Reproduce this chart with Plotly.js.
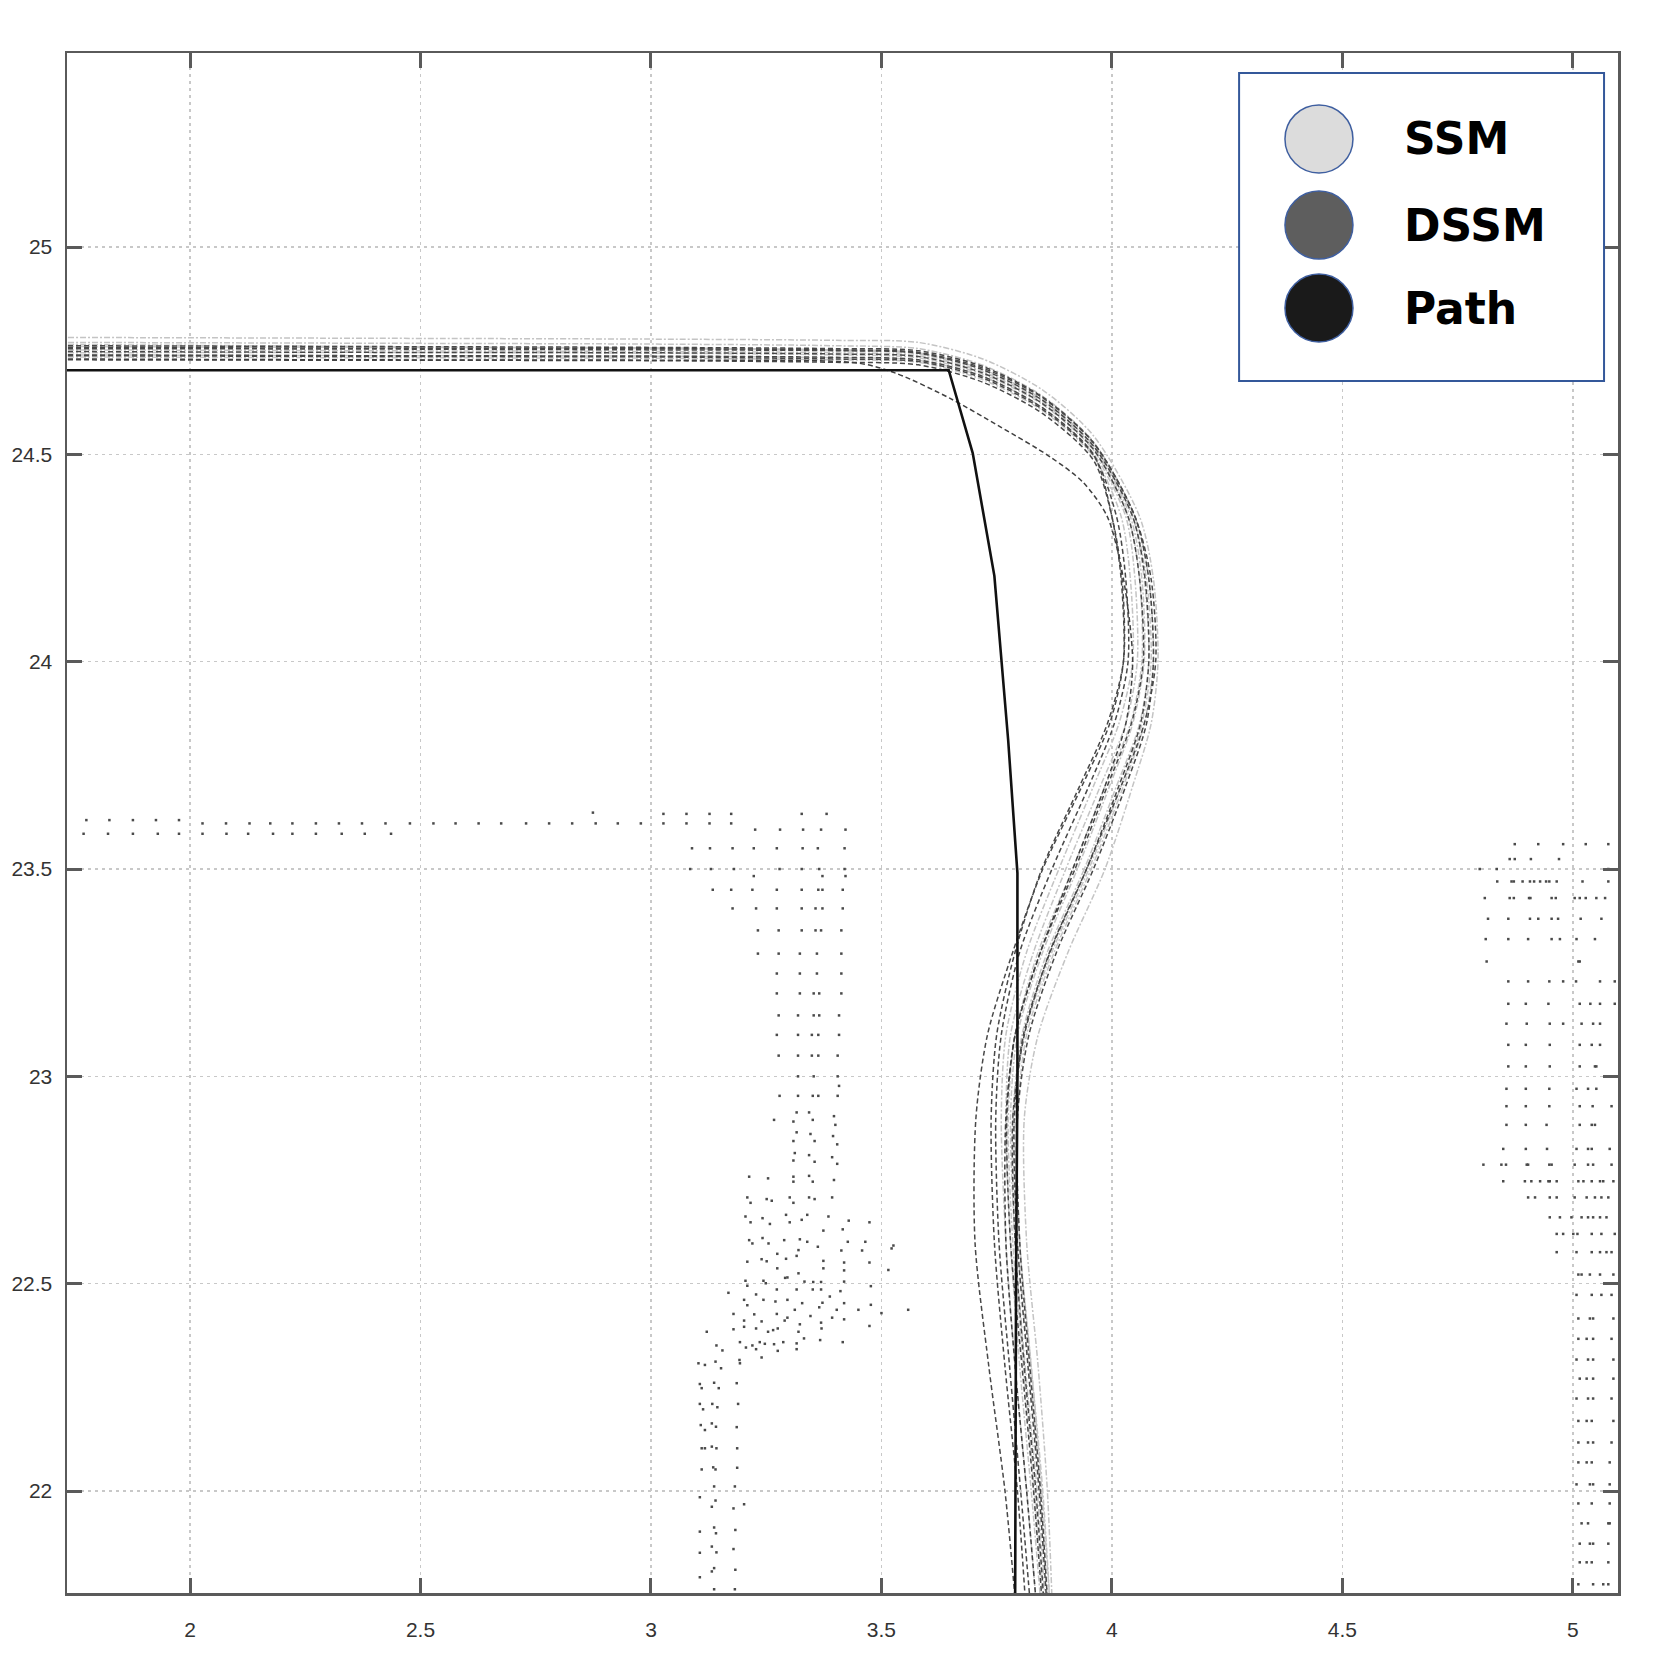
<!DOCTYPE html>
<html>
<head>
<meta charset="utf-8">
<script src="https://cdn.plot.ly/plotly-3.0.1.min.js"></script>
<style>
  html, body { margin: 0; padding: 0; background: #fff; }
  #plot { width: 1655px; height: 1672px; }
</style>
</head>
<body>
<div id="plot"></div>
<script>
// axis ranges
const X_RANGE = [1.733, 5.098];
const Y_RANGE = [21.754, 25.468];

// horizontal part of every run shares these x, vertical part shares these y
const headX = [1.735, 2.4, 3.0, 3.4, 3.58, 3.72, 3.85, 3.96];
const tailY = [24.35, 24.2, 24.0, 23.85, 23.7, 23.5, 23.3, 23.1, 22.9, 22.6, 22.3, 22.0, 21.74];

// SSM runs (light grey)
const ssmHeadY = [
  [24.782, 24.78, 24.778, 24.775, 24.77, 24.73, 24.655, 24.545],
  [24.77, 24.768, 24.766, 24.762, 24.755, 24.715, 24.64, 24.53],
  [24.76, 24.758, 24.757, 24.752, 24.745, 24.705, 24.632, 24.522],
  [24.752, 24.75, 24.748, 24.745, 24.738, 24.698, 24.625, 24.515],
  [24.745, 24.746, 24.744, 24.74, 24.733, 24.693, 24.62, 24.51],
  [24.74, 24.738, 24.737, 24.733, 24.727, 24.688, 24.612, 24.502],
  [24.735, 24.733, 24.732, 24.728, 24.722, 24.68, 24.605, 24.495],
  [24.765, 24.76, 24.755, 24.75, 24.742, 24.7, 24.628, 24.52]
];
const ssmTailX = [
  [4.06, 4.09, 4.1, 4.085, 4.045, 3.985, 3.905, 3.84, 3.81, 3.815, 3.84, 3.86, 3.87],
  [4.05, 4.08, 4.09, 4.07, 4.025, 3.955, 3.875, 3.815, 3.795, 3.8, 3.825, 3.85, 3.865],
  [4.045, 4.07, 4.08, 4.06, 4.01, 3.94, 3.86, 3.805, 3.785, 3.795, 3.82, 3.845, 3.86],
  [4.04, 4.065, 4.07, 4.045, 3.995, 3.925, 3.85, 3.795, 3.78, 3.79, 3.812, 3.838, 3.855],
  [4.035, 4.06, 4.065, 4.04, 3.985, 3.915, 3.84, 3.79, 3.775, 3.785, 3.808, 3.832, 3.85],
  [4.03, 4.05, 4.055, 4.03, 3.975, 3.9, 3.83, 3.78, 3.77, 3.78, 3.8, 3.825, 3.845],
  [4.02, 4.04, 4.045, 4.015, 3.96, 3.885, 3.815, 3.77, 3.76, 3.77, 3.79, 3.815, 3.835],
  [4.045, 4.075, 4.085, 4.065, 4.02, 3.95, 3.87, 3.81, 3.79, 3.8, 3.825, 3.848, 3.865]
];

// DSSM runs (dark grey)
const dssmHeadY = [
  [24.762, 24.76, 24.758, 24.755, 24.75, 24.712, 24.638, 24.528],
  [24.755, 24.754, 24.752, 24.75, 24.744, 24.704, 24.63, 24.52],
  [24.758, 24.756, 24.755, 24.752, 24.746, 24.708, 24.636, 24.528],
  [24.748, 24.746, 24.745, 24.742, 24.736, 24.696, 24.622, 24.512],
  [24.74, 24.738, 24.737, 24.734, 24.728, 24.688, 24.612, 24.5],
  [24.738, 24.736, 24.735, 24.73, 24.724, 24.684, 24.608, 24.498],
  [24.728, 24.727, 24.726, 24.722, 24.716, 24.674, 24.598, 24.486]
];
const dssmTailX = [
  [4.05, 4.08, 4.09, 4.075, 4.03, 3.96, 3.88, 3.82, 3.795, 3.8, 3.822, 3.845, 3.86],
  [4.045, 4.072, 4.08, 4.062, 4.015, 3.945, 3.866, 3.808, 3.788, 3.795, 3.818, 3.842, 3.858],
  [4.05, 4.085, 4.095, 4.07, 4.02, 3.945, 3.865, 3.81, 3.785, 3.79, 3.81, 3.835, 3.852],
  [4.035, 4.06, 4.068, 4.042, 3.99, 3.92, 3.845, 3.79, 3.772, 3.78, 3.805, 3.83, 3.848],
  [4.0, 4.02, 4.025, 3.995, 3.935, 3.85, 3.785, 3.73, 3.705, 3.703, 3.733, 3.768, 3.79],
  [4.01, 4.03, 4.035, 4.005, 3.95, 3.87, 3.8, 3.76, 3.748, 3.755, 3.778, 3.802, 3.822],
  [4.0, 4.022, 4.025, 3.99, 3.93, 3.848, 3.79, 3.75, 3.738, 3.745, 3.768, 3.795, 3.812]
];
// the DSSM run that cuts the corner early
const cutX = [1.735, 2.4, 3.0, 3.45, 3.533, 3.649, 3.757, 3.866, 3.938, 3.99, 4.025, 4.045, 4.03, 3.985, 3.915, 3.845, 3.79, 3.77, 3.77, 3.79, 3.815, 3.835];
const cutY = [24.73, 24.728, 24.727, 24.72, 24.695, 24.635, 24.567, 24.494, 24.432, 24.35, 24.2, 24.0, 23.85, 23.7, 23.5, 23.3, 23.1, 22.9, 22.6, 22.3, 22.0, 21.74];

// reference path (black)
const pathX = [1.70, 3.646, 3.698, 3.745, 3.775, 3.789, 3.795, 3.795, 3.792, 3.79];
const pathY = [24.703, 24.703, 24.503, 24.207, 23.81, 23.57, 23.49, 23.0, 22.5, 21.70];

// scan points, rows of [y, [x...]]
const wallRows = [
  [23.636, [2.874]],
  [23.633, [3.027, 3.077, 3.127, 3.174, 3.327, 3.381]],
  [23.618, [1.775, 1.825, 1.876, 1.926, 1.976]],
  [23.61, [2.027, 2.078, 2.129, 2.174, 2.222, 2.273, 2.323, 2.373, 2.424, 2.477, 2.528, 2.576, 2.626, 2.675, 2.729, 2.779, 2.829, 2.88, 2.928, 2.978, 3.027, 3.077, 3.127, 3.174]],
  [23.595, [3.226, 3.28, 3.33, 3.369, 3.422]],
  [23.585, [1.769, 1.822, 1.876, 1.93, 1.976, 2.027, 2.079, 2.126, 2.18, 2.222, 2.273, 2.329, 2.379, 2.436]],
  [23.55, [3.089, 3.128, 3.177, 3.223, 3.273, 3.329, 3.362, 3.42]],
  [23.5, [3.085, 3.13, 3.18, 3.279, 3.327, 3.365, 3.42]],
  [23.483, [3.223, 3.372, 3.422]],
  [23.45, [3.134, 3.174, 3.22, 3.273, 3.327, 3.363, 3.372, 3.416]],
  [23.405, [3.177, 3.228, 3.273, 3.327, 3.357, 3.372, 3.416]],
  [23.352, [3.232, 3.277, 3.327, 3.357, 3.369, 3.413]],
  [23.296, [3.232, 3.277, 3.323, 3.36, 3.413]],
  [23.248, [3.273, 3.323, 3.36, 3.413]],
  [23.2, [3.273, 3.323, 3.353, 3.365, 3.413]],
  [23.147, [3.277, 3.319, 3.353, 3.365, 3.408]],
  [23.1, [3.273, 3.319, 3.349, 3.363, 3.408]],
  [23.05, [3.277, 3.319, 3.349, 3.363, 3.405]],
  [23.0, [3.319, 3.353, 3.405]],
  [22.977, [3.408]],
  [22.953, [3.279, 3.319, 3.351, 3.363, 3.405]]
];

const blobPts = [
  [3.316,22.913],[3.343,22.913],[3.309,22.891],[3.351,22.895],[3.267,22.895],[3.397,22.904],[3.4,22.883],
  [3.316,22.865],[3.346,22.861],[3.309,22.844],[3.355,22.844],[3.395,22.856],[3.404,22.836],
  [3.312,22.815],[3.343,22.81],[3.309,22.797],[3.355,22.794],[3.393,22.805],[3.404,22.789],
  [3.213,22.758],[3.254,22.754],[3.309,22.758],[3.309,22.746],[3.343,22.76],[3.351,22.746],[3.397,22.75],
  [3.209,22.708],[3.216,22.695],[3.251,22.704],[3.262,22.7],[3.301,22.708],[3.309,22.695],[3.343,22.708],[3.355,22.704],[3.393,22.708],
  [3.205,22.662],[3.216,22.648],[3.242,22.658],[3.258,22.644],[3.293,22.666],[3.301,22.648],[3.327,22.654],[3.339,22.666],[3.385,22.662],[3.374,22.628],[3.429,22.652],[3.416,22.631],[3.474,22.648],
  [3.213,22.605],[3.22,22.597],[3.242,22.61],[3.255,22.597],[3.289,22.605],[3.323,22.607],[3.339,22.601],[3.32,22.581],[3.362,22.589],[3.427,22.601],[3.413,22.58],[3.465,22.601],[3.458,22.58],[3.526,22.592],[3.522,22.585],
  [3.209,22.553],[3.24,22.559],[3.251,22.554],[3.293,22.56],[3.274,22.572],[3.274,22.537],[3.316,22.567],[3.374,22.555],[3.374,22.537],[3.419,22.551],[3.419,22.532],[3.474,22.551],[3.515,22.533],
  [3.205,22.507],[3.209,22.495],[3.244,22.507],[3.249,22.501],[3.291,22.514],[3.296,22.515],[3.32,22.525],[3.333,22.505],[3.352,22.504],[3.369,22.504],[3.419,22.505],[3.477,22.494],[3.273,22.486],[3.316,22.486],[3.351,22.486],[3.369,22.486],[3.411,22.482],
  [3.168,22.478],[3.228,22.474],[3.202,22.461],[3.209,22.448],[3.244,22.461],[3.27,22.457],[3.296,22.461],[3.328,22.453],[3.312,22.437],[3.372,22.454],[3.365,22.443],[3.388,22.469],[3.419,22.453],[3.403,22.437],[3.45,22.437],[3.477,22.449],[3.5,22.429],[3.558,22.437],
  [3.179,22.427],[3.224,22.426],[3.273,22.427],[3.202,22.411],[3.202,22.396],[3.24,22.409],[3.29,22.411],[3.296,22.418],[3.323,22.402],[3.346,22.422],[3.369,22.406],[3.37,22.392],[3.393,22.418],[3.419,22.414],[3.474,22.398],
  [3.121,22.384],[3.179,22.39],[3.228,22.392],[3.254,22.384],[3.265,22.388],[3.275,22.392],[3.32,22.384],
  [3.142,22.351],[3.155,22.339],[3.193,22.359],[3.206,22.346],[3.22,22.351],[3.228,22.342],[3.236,22.359],[3.247,22.355],[3.267,22.354],[3.287,22.359],[3.275,22.338],[3.316,22.356],[3.316,22.342],[3.332,22.368],[3.367,22.364],[3.416,22.359],[3.24,22.322],[3.193,22.308],
  [3.103,22.308],[3.117,22.304],[3.14,22.312],[3.152,22.296],[3.192,22.316],
  [3.106,22.258],[3.11,22.248],[3.137,22.261],[3.147,22.248],[3.186,22.26],
  [3.106,22.21],[3.113,22.197],[3.133,22.21],[3.144,22.202],[3.189,22.21],
  [3.108,22.159],[3.117,22.147],[3.132,22.163],[3.141,22.155],[3.186,22.154],
  [3.11,22.103],[3.117,22.103],[3.132,22.107],[3.142,22.103],[3.187,22.103],
  [3.11,22.052],[3.135,22.057],[3.14,22.052],[3.187,22.056],
  [3.137,22.011],[3.182,22.011],[3.106,21.985],[3.14,21.977],[3.132,21.962],[3.179,21.958],[3.202,21.968],
  [3.106,21.902],[3.137,21.912],[3.141,21.898],[3.183,21.906],
  [3.106,21.851],[3.132,21.866],[3.142,21.852],[3.179,21.86],
  [3.106,21.792],[3.132,21.806],[3.137,21.814],[3.183,21.81],
  [3.137,21.763],[3.182,21.763]
];

const rightRows = [
  [23.56, [4.874, 4.925, 4.979, 5.028, 5.077]],
  [23.524, [4.863, 4.874, 4.909, 4.97]],
  [23.5, [4.798, 4.835, 5.077]],
  [23.47, [4.836, 4.867, 4.872, 4.891, 4.907, 4.916, 4.929, 4.942, 4.949, 4.965, 5.021, 5.077]],
  [23.43, [4.809, 4.863, 4.872, 4.905, 4.908, 4.954, 4.963, 5.004, 5.015, 5.028, 5.051, 5.07]],
  [23.38, [4.816, 4.86, 4.907, 4.925, 4.954, 4.968, 5.017, 5.062]],
  [23.331, [4.811, 4.86, 4.903, 4.954, 4.972, 5.008, 5.048]],
  [23.277, [4.813, 5.012, 5.015]],
  [23.229, [4.86, 4.903, 4.949, 4.979, 5.007, 5.059, 5.091]],
  [23.175, [4.86, 4.898, 4.947, 5.015, 5.038, 5.059, 5.091]],
  [23.127, [4.856, 4.9, 4.95, 4.979, 5.019, 5.044, 5.059]],
  [23.076, [4.86, 4.898, 4.95, 5.015, 5.041, 5.059]],
  [23.024, [4.86, 4.898, 4.95, 5.015, 5.048, 5.051]],
  [22.97, [4.856, 4.898, 4.949, 5.008, 5.033, 5.051]],
  [22.928, [4.856, 4.898, 4.949, 5.015, 5.043, 5.084]],
  [22.883, [4.856, 4.898, 4.943, 5.015, 5.041, 5.048]],
  [22.825, [4.849, 4.898, 4.944, 5.008, 5.033, 5.041, 5.08]],
  [22.787, [4.806, 4.845, 4.855, 4.9, 4.903, 4.949, 4.954, 5.004, 5.033, 5.044, 5.084]],
  [22.747, [4.849, 4.896, 4.91, 4.929, 4.947, 4.95, 4.965, 5.012, 5.023, 5.041, 5.059, 5.066, 5.088]],
  [22.708, [4.903, 4.918, 4.95, 4.965, 5.004, 5.03, 5.048, 5.062, 5.077]],
  [22.66, [4.95, 4.972, 4.997, 5.019, 5.033, 5.044, 5.059, 5.073]],
  [22.62, [4.965, 4.979, 5.001, 5.01, 5.041, 5.062, 5.091]],
  [22.576, [4.965, 5.008, 5.041, 5.059, 5.073, 5.084]],
  [22.522, [5.012, 5.019, 5.037, 5.059, 5.088]],
  [22.473, [5.008, 5.041, 5.062, 5.084]],
  [22.416, [5.012, 5.037, 5.044, 5.088]],
  [22.367, [5.012, 5.03, 5.044, 5.084]],
  [22.317, [5.008, 5.033, 5.044, 5.088]],
  [22.271, [5.015, 5.03, 5.044, 5.088]],
  [22.223, [5.008, 5.033, 5.044, 5.084]],
  [22.169, [5.012, 5.03, 5.041, 5.088]],
  [22.117, [5.012, 5.033, 5.044, 5.084]],
  [22.069, [5.012, 5.03, 5.041, 5.08]],
  [22.016, [5.008, 5.037, 5.044, 5.08]],
  [21.97, [5.012, 5.041, 5.08]],
  [21.922, [5.019, 5.033, 5.077, 5.08]],
  [21.873, [5.015, 5.037, 5.044, 5.077]],
  [21.828, [5.015, 5.03, 5.041, 5.077]],
  [21.775, [5.012, 5.044, 5.066, 5.077]]
];

const legendNames = ["SSM", "DSSM", "Path"];
const legendFills = ["#dcdcdc", "#5e5e5e", "#1a1a1a"];

const TICK_FONT = { family: "Liberation Sans, Arial, sans-serif", size: 21, color: "#333" };
const AXIS_COL = "#5a5a5a";

function rowsToXY(rows) {
  const xs = [], ys = [];
  rows.forEach(([y, list]) => list.forEach(x => { xs.push(x); ys.push(y); }));
  return { xs, ys };
}

function runTrace(x, y, color, dash, width) {
  return {
    type: "scatter", mode: "lines", x, y,
    line: { color, width, dash, shape: "spline", smoothing: 0.8 },
    showlegend: false, hoverinfo: "skip"
  };
}

function main() {
  const traces = [];

  // scan points
  const w = rowsToXY(wallRows);
  const r = rowsToXY(rightRows);
  const dotX = w.xs.concat(blobPts.map(p => p[0]), r.xs);
  const dotY = w.ys.concat(blobPts.map(p => p[1]), r.ys);
  traces.push({
    type: "scatter", mode: "markers", x: dotX, y: dotY,
    marker: { size: 2.5, color: "#4a4a4a", symbol: "square" },
    showlegend: false, hoverinfo: "skip"
  });

  ssmHeadY.forEach((hy, i) => {
    traces.push(runTrace(headX.concat(ssmTailX[i]), hy.concat(tailY), "#c4c4c4", "6px,2px,2px,2px", 1.5));
  });
  dssmHeadY.forEach((hy, i) => {
    traces.push(runTrace(headX.concat(dssmTailX[i]), hy.concat(tailY), "#484848", "5px,3px", 1.5));
  });
  traces.push(runTrace(cutX, cutY, "#404040", "5px,3px", 1.5));

  traces.push({
    type: "scatter", mode: "lines", x: pathX, y: pathY,
    line: { color: "#111", width: 2.6 },
    showlegend: false, hoverinfo: "skip"
  });

  // hand-drawn legend box (plot area fractions)
  const shapes = [{
    type: "rect", xref: "paper", yref: "paper",
    x0: 0.7557, x1: 0.991, y0: 0.787, y1: 0.987,
    fillcolor: "#fff", line: { color: "#34589a", width: 2 }
  }];
  const annotations = [];
  const rowsY = [0.9442, 0.8883, 0.8344];
  legendNames.forEach((name, i) => {
    shapes.push({
      type: "circle", xref: "paper", yref: "paper",
      xsizemode: "pixel", ysizemode: "pixel",
      xanchor: 0.8072, yanchor: rowsY[i],
      x0: -34, x1: 34, y0: -34, y1: 34,
      fillcolor: legendFills[i], line: { color: "#3f5fa0", width: 1.5 }
    });
    annotations.push({
      xref: "paper", yref: "paper", x: 0.861, y: rowsY[i],
      xanchor: "left", yanchor: "middle", showarrow: false,
      text: name,
      font: { family: "DejaVu Sans, Noto Sans, sans-serif", size: 44, color: "#000", weight: "bold" }
    });
  });

  const axisCommon = {
    showline: true, linecolor: AXIS_COL, linewidth: 2.5, mirror: "ticks",
    ticks: "inside", ticklen: 15, tickwidth: 3, tickcolor: AXIS_COL,
    showgrid: true, gridcolor: "#c8c8c8", gridwidth: 1.5, griddash: "3px,4px",
    zeroline: false, tickfont: TICK_FONT, dtick: 0.5
  };

  const layout = {
    width: 1655, height: 1672,
    margin: { l: 67, r: 37, t: 53, b: 79, pad: 0 },
    paper_bgcolor: "#fff", plot_bgcolor: "#fff",
    showlegend: false,
    xaxis: Object.assign({}, axisCommon, { range: X_RANGE, tick0: 2, ticklabelstandoff: 16 }),
    yaxis: Object.assign({}, axisCommon, { range: Y_RANGE, tick0: 22, ticklabelstandoff: 8 }),
    shapes, annotations
  };

  Plotly.newPlot("plot", traces, layout, { staticPlot: true });
}

main();
</script>
</body>
</html>
